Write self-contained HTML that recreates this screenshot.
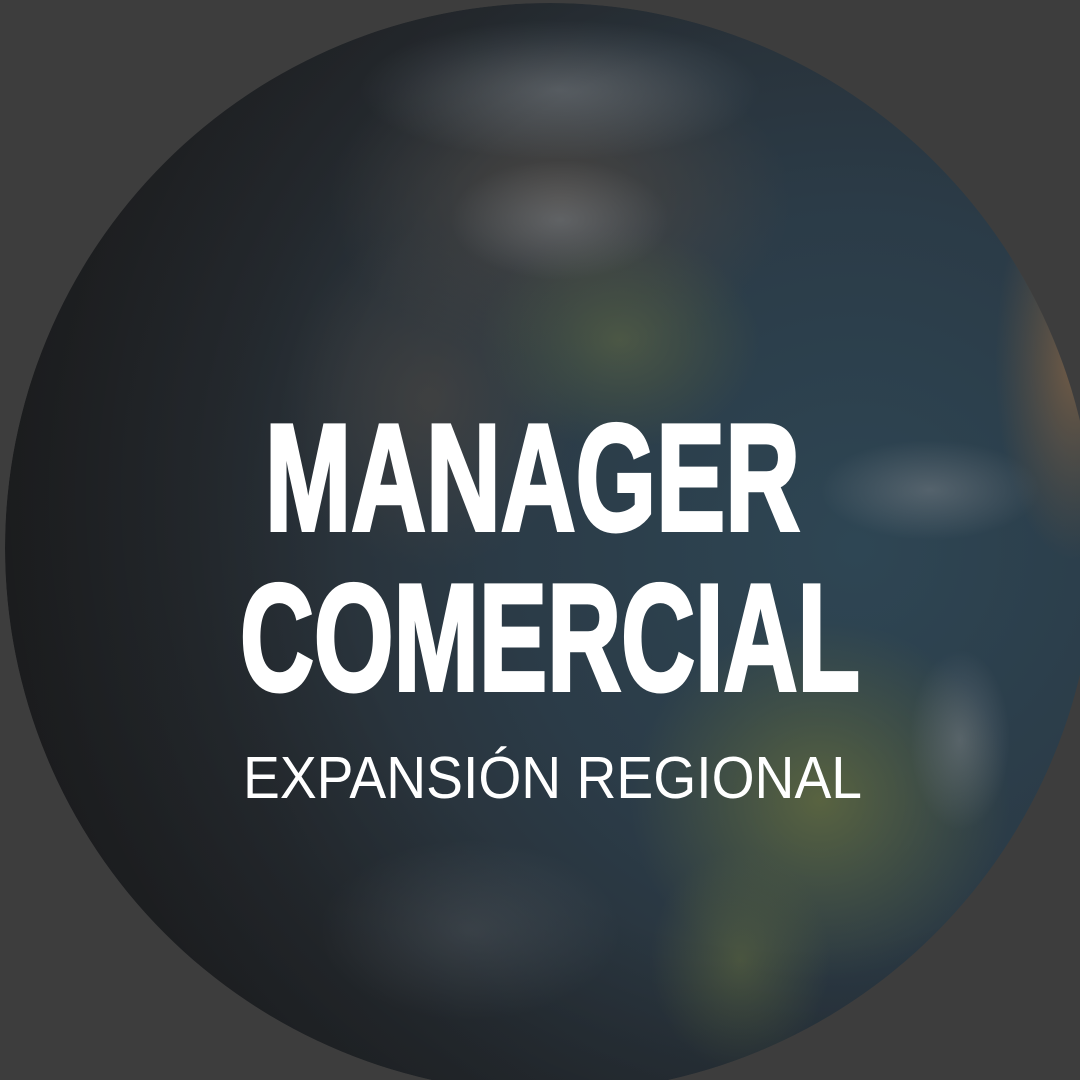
<!DOCTYPE html>
<html><head><meta charset="utf-8"><style>
html,body{margin:0;padding:0;width:1080px;height:1080px;overflow:hidden;background:#3d3d3d}
</style></head><body>
<svg width="1080" height="1080" viewBox="0 0 1080 1080" xmlns="http://www.w3.org/2000/svg">
<defs>
<radialGradient id="ocean" cx="0.78" cy="0.5" r="0.8">
<stop offset="0" stop-color="#2e4654"/>
<stop offset="0.4" stop-color="#2b3b47"/>
<stop offset="0.75" stop-color="#272c31"/>
<stop offset="1" stop-color="#252628"/>
</radialGradient>
<radialGradient id="land1" cx="0.5" cy="0.5" r="0.5">
<stop offset="0" stop-color="#4f5a45" stop-opacity="0.9"/>
<stop offset="1" stop-color="#4a5540" stop-opacity="0"/>
</radialGradient>
<radialGradient id="brown" cx="0.5" cy="0.5" r="0.5">
<stop offset="0" stop-color="#4d4742" stop-opacity="0.85"/>
<stop offset="1" stop-color="#4d4742" stop-opacity="0"/>
</radialGradient>
<radialGradient id="africa" cx="0.5" cy="0.5" r="0.5">
<stop offset="0" stop-color="#7a5f45" stop-opacity="0.9"/>
<stop offset="1" stop-color="#6a5540" stop-opacity="0"/>
</radialGradient>
<radialGradient id="land2" cx="0.5" cy="0.5" r="0.5">
<stop offset="0" stop-color="#5b6540" stop-opacity="0.95"/>
<stop offset="1" stop-color="#55603f" stop-opacity="0"/>
</radialGradient>
<radialGradient id="cloud" cx="0.5" cy="0.5" r="0.5">
<stop offset="0" stop-color="#7c8288" stop-opacity="0.5"/>
<stop offset="1" stop-color="#7c8288" stop-opacity="0"/>
</radialGradient>
<radialGradient id="shade" cx="0.72" cy="0.45" r="0.75">
<stop offset="0.55" stop-color="#000" stop-opacity="0"/>
<stop offset="1" stop-color="#000" stop-opacity="0.3"/>
</radialGradient>
<clipPath id="globeClip"><circle cx="550" cy="548" r="545"/></clipPath>
</defs>
<rect width="1080" height="1080" fill="#3d3d3d"/>
<g clip-path="url(#globeClip)">
<circle cx="550" cy="548" r="545" fill="url(#ocean)"/>
<ellipse cx="560" cy="200" rx="230" ry="160" fill="url(#brown)"/>
<ellipse cx="430" cy="400" rx="150" ry="170" fill="url(#brown)" opacity="0.7"/>
<ellipse cx="620" cy="340" rx="140" ry="110" fill="url(#land1)"/>
<ellipse cx="820" cy="800" rx="190" ry="180" fill="url(#land2)"/>
<ellipse cx="740" cy="960" rx="90" ry="110" fill="url(#land2)" opacity="0.7"/>
<ellipse cx="1075" cy="360" rx="80" ry="200" fill="url(#africa)"/>
<ellipse cx="560" cy="90" rx="200" ry="70" fill="url(#cloud)"/>
<ellipse cx="560" cy="220" rx="110" ry="60" fill="url(#cloud)"/>
<ellipse cx="930" cy="490" rx="110" ry="50" fill="url(#cloud)"/>
<ellipse cx="960" cy="740" rx="50" ry="90" fill="url(#cloud)"/>
<ellipse cx="470" cy="930" rx="150" ry="90" fill="url(#cloud)" opacity="0.5"/>
<circle cx="550" cy="548" r="545" fill="url(#shade)"/>
</g>
<text x="265" y="530" textLength="535" lengthAdjust="spacingAndGlyphs" font-family="'Liberation Sans Narrow','Liberation Sans',sans-serif" font-weight="bold" font-size="152" fill="#ffffff" stroke="#ffffff" stroke-width="4">MANAGER</text>
<text x="240" y="690" textLength="620" lengthAdjust="spacingAndGlyphs" font-family="'Liberation Sans Narrow','Liberation Sans',sans-serif" font-weight="bold" font-size="152" fill="#ffffff" stroke="#ffffff" stroke-width="4">COMERCIAL</text>
<text x="243" y="798" textLength="619" lengthAdjust="spacingAndGlyphs" font-family="'Liberation Sans',sans-serif" font-size="59" fill="#ffffff">EXPANSIÓN REGIONAL</text>
</svg>
</body></html>
